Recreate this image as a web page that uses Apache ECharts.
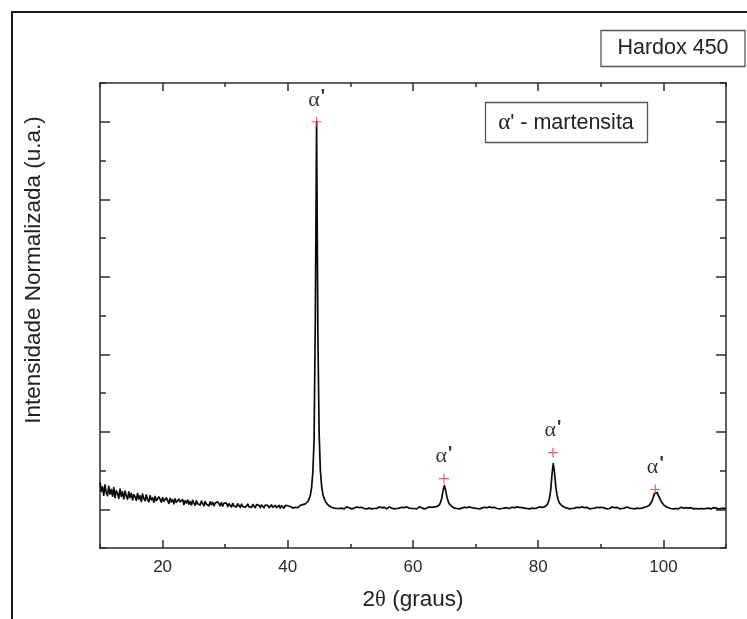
<!DOCTYPE html>
<html>
<head>
<meta charset="utf-8">
<title>Hardox 450 - DRX</title>
<script src="https://cdn.jsdelivr.net/npm/echarts@6/dist/echarts.min.js"></script>
<style>
  html, body { margin: 0; padding: 0; background: #fff; }
  #chart { width: 747px; height: 619px; }
</style>
</head>
<body>
<div id="chart"></div>
<script>
// Difratograma normalizado (0-100), passo de 0.2 grau em 2θ
const scanStart = 10;
const scanStep = 0.2;

// 10.0 - 29.8
const counts10to30 = [
  7.0, 4.6, 5.8, 3.6, 6.3, 4.2, 3.5, 5.9, 3.9, 5.1,
  3.4, 5.6, 3.0, 4.8, 4.1, 2.8, 5.2, 3.3, 4.5, 2.7,
  4.7, 3.4, 2.6, 4.5, 3.0, 4.1, 2.4, 3.8, 3.2, 2.3,
  4.1, 2.6, 3.5, 2.0, 3.9, 2.8, 2.2, 3.7, 2.5, 1.9,
  3.5, 2.4, 3.0, 1.8, 3.3, 2.2, 1.7, 3.2, 2.6, 1.8,
  3.0, 2.1, 1.6, 2.9, 2.3, 1.5, 2.8, 1.9, 2.5, 1.4,
  2.7, 1.8, 1.3, 2.6, 1.9, 1.4, 2.5, 1.2, 2.2, 1.6,
  2.4, 1.3, 2.0, 1.1, 2.3, 1.6, 1.0, 2.2, 1.4, 1.9,
  1.1, 2.1, 1.5, 0.9, 2.0, 1.3, 1.8, 0.9, 1.9, 1.2,
  1.8, 0.9, 1.6, 1.1, 1.9, 2.4, 0.9, 1.7, 0.8, 1.6
];
// 30.0 - 49.8
const counts30to50 = [
  1.1, 1.6, 0.7, 1.4, 1.0, 0.6, 1.5, 0.8, 1.3, 0.6,
  1.4, 0.9, 0.5, 1.3, 0.7, 1.2, 0.5, 1.0, 1.3, 0.6,
  1.1, 0.5, 1.2, 0.8, 0.4, 1.2, 0.7, 1.0, 0.4, 1.1,
  0.8, 0.4, 1.1, 0.6, 1.0, 0.4, 0.9, 1.1, 0.5, 0.8,
  1.0, 0.4, 0.8, 1.0, 0.3, 0.9, 0.6, 0.3, 1.0, 0.5,
  0.9, 0.4, 0.7, 1.0, 0.3, 0.8, 0.5, 0.9, 0.4, 0.8,
  1.0, 0.7, 1.2, 0.9, 1.4, 1.5, 2.0, 2.6, 3.6, 5.6,
  9.5, 18, 50, 100, 46, 20, 10, 6.0, 3.9, 2.8,
  2.1, 1.5, 1.2, 0.9, 0.8, 0.5, 0.7, 0.3, 0.6, 0.2,
  0.5, 0.2, 0.6, 0.3, 0.5, 0.1, 0.4, 0.6, 0.2, 0.4
];
// 50.0 - 69.8
const counts50to70 = [
  0.4, 0.1, 0.5, 0.3, 0.2, 0.6, 0.2, 0.4, 0.1, 0.5,
  0.3, 0.2, 0.6, 0.1, 0.4, 0.3, 0.5, 0.1, 0.4, 0.2,
  0.5, 0.2, 0.3, 0.6, 0.1, 0.4, 0.2, 0.5, 0.3, 0.1,
  0.4, 0.6, 0.2, 0.3, 0.5, 0.1, 0.4, 0.2, 0.6, 0.3,
  0.1, 0.5, 0.3, 0.4, 0.2, 0.6, 0.1, 0.3, 0.5, 0.2,
  0.4, 0.2, 0.5, 0.1, 0.3, 0.6, 0.2, 0.4, 0.3, 0.1,
  0.5, 0.3, 0.2, 0.6, 0.3, 0.5, 0.4, 0.6, 0.5, 0.7,
  0.9, 1.1, 1.8, 2.9, 4.8, 6.1, 5.0, 3.3, 2.1, 1.4,
  1.0, 0.7, 0.6, 0.3, 0.5, 0.2, 0.4, 0.1, 0.5, 0.3,
  0.2, 0.5, 0.1, 0.4, 0.3, 0.6, 0.2, 0.4, 0.1, 0.3
];
// 70.0 - 89.8
const counts70to90 = [
  0.5, 0.2, 0.4, 0.1, 0.6, 0.3, 0.2, 0.5, 0.1, 0.4,
  0.3, 0.6, 0.2, 0.4, 0.1, 0.5, 0.3, 0.2, 0.6, 0.1,
  0.4, 0.2, 0.5, 0.3, 0.1, 0.4, 0.6, 0.2, 0.3, 0.5,
  0.1, 0.4, 0.2, 0.6, 0.3, 0.5, 0.1, 0.4, 0.2, 0.3,
  0.6, 0.2, 0.4, 0.1, 0.5, 0.3, 0.4, 0.2, 0.5, 0.3,
  0.4, 0.6, 0.3, 0.5, 0.7, 0.6, 0.9, 1.1, 1.8, 2.8,
  5.0, 8.9, 11.8, 9.6, 6.0, 3.7, 2.4, 1.6, 1.2, 0.9,
  0.7, 0.5, 0.6, 0.3, 0.5, 0.1, 0.4, 0.2, 0.6, 0.3,
  0.2, 0.5, 0.1, 0.4, 0.3, 0.6, 0.2, 0.4, 0.1, 0.5,
  0.3, 0.1, 0.4, 0.2, 0.6, 0.3, 0.1, 0.5, 0.2, 0.4
];
// 90.0 - 110.0
const counts90to110 = [
  0.2, 0.5, 0.1, 0.3, 0.4, 0.1, 0.5, 0.2, 0.3, 0.6,
  0.1, 0.4, 0.2, 0.5, 0.3, 0.1, 0.4, 0.2, 0.5, 0.3,
  0.2, 0.6, 0.1, 0.3, 0.4, 0.2, 0.5, 0.1, 0.4, 0.3,
  0.5, 0.2, 0.4, 0.3, 0.6, 0.5, 0.8, 0.7, 1.0, 1.1,
  1.6, 2.2, 3.2, 4.1, 4.5, 4.3, 3.5, 2.9, 2.1, 1.6,
  1.2, 1.0, 0.7, 0.6, 0.4, 0.5, 0.2, 0.4, 0.1, 0.3,
  0.2, 0.4, 0.1, 0.3, 0.5, 0.1, 0.3, 0.2, 0.4, 0.1,
  0.3, 0.1, 0.4, 0.2, 0.1, 0.5, 0.2, 0.3, 0.1, 0.4,
  0.2, 0.3, 0.1, 0.4, 0.2, 0.1, 0.3, 0.5, 0.1, 0.2,
  0.4, 0.1, 0.3, 0.2, 0.1, 0.4, 0.2, 0.1, 0.3, 0.2,
  0.1
];

// Picos identificados (fase α' - martensita)
const peakAngles = [44.6, 64.95, 82.36, 98.7];
const peakMarkers = [100, 7.9, 14.6, 5.1];
const peakPhase = ["α'", "α'", "α'", "α'"];

// Marcas dos eixos
const xMajorTicks = [20, 40, 60, 80, 100];
const yMajorTicks = [0, 20, 40, 60, 80, 100];

const sampleName = 'Hardox 450';
const legendText = ' - martensita';
const yTitle = 'Intensidade Normalizada (u.a.)';

const counts = [].concat(counts10to30, counts30to50, counts50to70, counts70to90, counts90to110);
const pattern = counts.map((v, i) => [Math.round((scanStart + i * scanStep) * 10) / 10, v]);
const markers = peakAngles.map((a, i) => ({ value: [a, peakMarkers[i]], phase: peakPhase[i] }));

const SANS = "Liberation Sans";
const SERIF = "Liberation Serif";
const AXIS_COLOR = '#2b2b2b';

function xAxisDef(pos, major, withLine, withLabels) {
  return {
    type: 'value', position: pos, min: 10, max: 110, interval: 10,
    axisLine: { show: withLine, onZero: false, lineStyle: { color: AXIS_COLOR, width: 1.5 } },
    axisTick: major
      ? { show: true, inside: true, length: 8, customValues: xMajorTicks, lineStyle: { color: AXIS_COLOR, width: 1.5 } }
      : { show: true, inside: true, length: 4, lineStyle: { color: AXIS_COLOR, width: 1.5 } },
    axisLabel: withLabels
      ? { show: true, customValues: xMajorTicks, margin: 11, color: '#2a2a2a', fontSize: 17, fontFamily: SANS }
      : { show: false },
    splitLine: { show: false }
  };
}
function yAxisDef(pos, major, withLine) {
  return {
    type: 'value', position: pos, min: -10, max: 110, interval: 10,
    axisLine: { show: withLine, onZero: false, lineStyle: { color: AXIS_COLOR, width: 1.5 } },
    axisTick: major
      ? { show: true, inside: true, length: 10, customValues: yMajorTicks, lineStyle: { color: AXIS_COLOR, width: 1.5 } }
      : { show: true, inside: true, length: 6, lineStyle: { color: AXIS_COLOR, width: 1.5 } },
    axisLabel: { show: false },
    splitLine: { show: false }
  };
}

const chart = echarts.init(document.getElementById('chart'), null, { renderer: 'canvas' });
chart.setOption({
  animation: false,
  backgroundColor: '#ffffff',
  grid: { left: 100, right: 21, top: 83, bottom: 71, containLabel: false },
  xAxis: [
    xAxisDef('bottom', false, true, true),
    xAxisDef('bottom', true, false, false),
    xAxisDef('top', false, true, false),
    xAxisDef('top', true, false, false)
  ],
  yAxis: [
    yAxisDef('left', false, true),
    yAxisDef('left', true, false),
    yAxisDef('right', false, true),
    yAxisDef('right', true, false)
  ],
  series: [
    {
      type: 'line',
      data: pattern,
      xAxisIndex: 0, yAxisIndex: 0,
      showSymbol: false, symbol: 'none',
      lineStyle: { color: '#0a0a0a', width: 1.7, join: 'round' },
      z: 3
    },
    {
      type: 'scatter',
      data: markers,
      xAxisIndex: 0, yAxisIndex: 0,
      symbol: 'path://M0,4.4h10v1.2h-10z M4.4,0h1.2v10h-1.2z',
      symbolSize: 10,
      itemStyle: { color: '#e23a3a' },
      z: 4,
      label: {
        show: true, position: 'top', distance: 5,
        color: '#000', fontFamily: SERIF, fontSize: 21,
        formatter: (p) => '{a|' + p.data.phase.charAt(0) + '}{p|' + p.data.phase.charAt(1) + '}',
        rich: {
          a: { fontFamily: SERIF, fontSize: 22, color: '#000' },
          p: { fontFamily: SANS, fontSize: 18, fontWeight: 'bold', color: '#000', verticalAlign: 'top', padding: [0, 0, 6, 1] }
        }
      }
    }
  ],
  graphic: [
    // moldura externa
    { type: 'polyline', shape: { points: [[12, 619], [12, 12], [747, 12]] },
      style: { stroke: '#1a1a1a', lineWidth: 2, fill: null }, silent: true },
    // caixa com o nome da amostra
    { type: 'rect', shape: { x: 601, y: 30.5, width: 144, height: 36 },
      style: { fill: '#fff', stroke: '#555', lineWidth: 1.3 } },
    { type: 'text', x: 673, y: 48.5,
      style: { text: sampleName, fill: '#222', font: "21.5px 'Liberation Sans', Arial, sans-serif", align: 'center', verticalAlign: 'middle' } },
    // legenda da fase
    { type: 'rect', shape: { x: 485.5, y: 102.5, width: 162, height: 40 },
      style: { fill: '#fff', stroke: '#555', lineWidth: 1.3 } },
    { type: 'text', x: 566, y: 123,
      style: {
        text: '{a|α}{b|\'' + legendText + '}',
        align: 'center', verticalAlign: 'middle',
        rich: {
          a: { fontFamily: SERIF, fontSize: 23, fill: '#222' },
          b: { fontFamily: SANS, fontSize: 21.5, fill: '#222' }
        }
      } },
    // títulos dos eixos
    { type: 'text', x: 34, y: 270, rotation: Math.PI / 2,
      style: { text: yTitle, fill: '#222', font: "22.5px 'Liberation Sans', Arial, sans-serif", align: 'center', verticalAlign: 'middle' } },
    { type: 'text', x: 413, y: 600,
      style: {
        text: '{n|2}{t|θ}{n| (graus)}',
        align: 'center', verticalAlign: 'middle',
        rich: {
          n: { fontFamily: SANS, fontSize: 22.5, fill: '#222' },
          t: { fontFamily: SERIF, fontSize: 22.5, fill: '#222' }
        }
      } }
  ]
});
</script>
</body>
</html>
